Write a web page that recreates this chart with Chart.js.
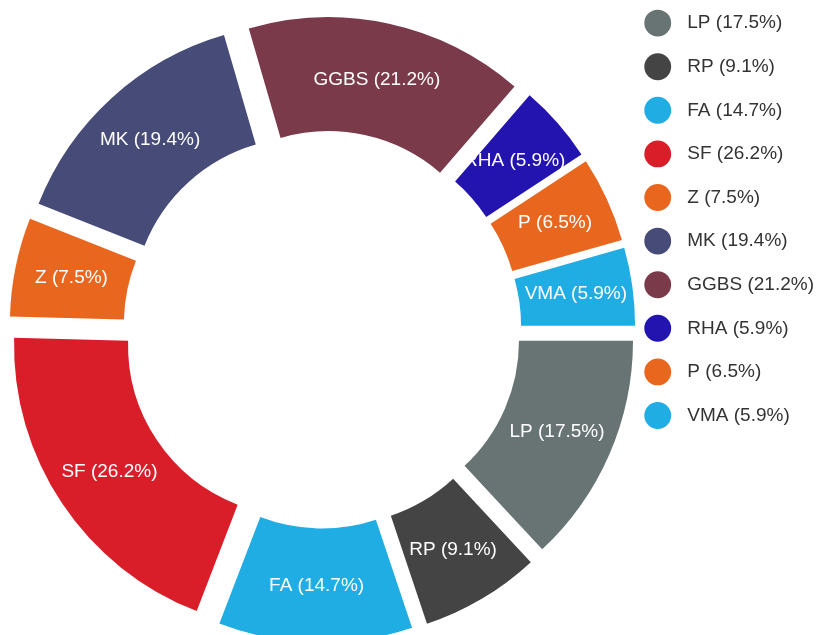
<!DOCTYPE html>
<html>
<head>
<meta charset="utf-8">
<title>Binder composition</title>
<script src="https://cdn.jsdelivr.net/npm/chart.js@4.4.1/dist/chart.umd.min.js"></script>
<style>
  html, body { margin: 0; background: #fff; }
  #wrap { position: relative; width: 822px; height: 635px; }
</style>
</head>
<body>
<div id="wrap"><canvas id="c"></canvas></div>
<script>
/* ===== Doughnut: binder shares, exploded slices + in-slice labels ===== */
const labels = ["LP", "RP", "FA", "SF", "Z", "MK", "GGBS", "RHA", "P", "VMA"];
const shares = [17.5, 9.1, 14.7, 26.2, 7.5, 19.4, 21.2, 5.9, 6.5, 5.9];
const colors = ["#687474", "#444444", "#1fade3", "#d91e2a", "#e8661e", "#474b78", "#7b3a49", "#2314b0", "#e8661e", "#1fade3"];

const SHIFT = 28;      // how far each slice is pulled away from the centre
const LEGEND_UP = 35;  // legend sits higher than the ring's layout box
const FONT = '"Liberation Sans", Arial, sans-serif';
const pct = (i) => `${labels[i]} (${shares[i].toFixed(1)}%)`;

function pull(arc) {
  const a = (arc.startAngle + arc.endAngle) / 2;
  return { dx: Math.cos(a) * SHIFT, dy: Math.sin(a) * SHIFT };
}

// Chart.js' own `offset` also grows small arcs radially; this just moves them out.
const explode = {
  id: "explode",
  afterLayout(chart) {
    chart.legend.top -= LEGEND_UP;
    chart.legend.bottom -= LEGEND_UP;
  },
  beforeDatasetDraw(chart, args) {
    const ctx = chart.ctx;
    args.meta.data.forEach((arc) => {
      const { dx, dy } = pull(arc);
      ctx.save();
      ctx.translate(dx, dy);
      arc.draw(ctx, chart.chartArea);
      ctx.restore();
    });
    return false;
  },
  afterDatasetsDraw(chart) {
    const ctx = chart.ctx;
    ctx.save();
    ctx.font = `19px ${FONT}`;
    ctx.fillStyle = "#ffffff";
    ctx.textAlign = "center";
    ctx.textBaseline = "middle";
    chart.getDatasetMeta(0).data.forEach((arc, i) => {
      const p = arc.tooltipPosition();
      const { dx, dy } = pull(arc);
      ctx.fillText(pct(i), p.x + dx, p.y + dy);
    });
    ctx.restore();
  },
};

new Chart(document.getElementById("c"), {
  type: "doughnut",
  data: {
    labels,
    datasets: [{ data: shares, backgroundColor: colors, borderWidth: 0 }],
  },
  options: {
    responsive: true, maintainAspectRatio: false,
    animation: false,
    rotation: 90,
    radius: 285,
    cutout: "60%",
    layout: { padding: { top: 24, bottom: 0, left: 21, right: -2 } },
    plugins: {
      tooltip: { enabled: false },
      legend: {
        position: "right", align: "start",
        labels: {
          usePointStyle: true, pointStyle: "circle",
          padding: 24.6, color: "#333",
          font: { family: FONT, size: 19 },
          generateLabels(chart) {
            return Chart.overrides.doughnut.plugins.legend.labels.generateLabels(chart)
              .map((item) => ({ ...item, text: "  " + pct(item.index) }));
          },
        },
      },
    },
  },
  plugins: [explode],
});
</script>
</body>
</html>
